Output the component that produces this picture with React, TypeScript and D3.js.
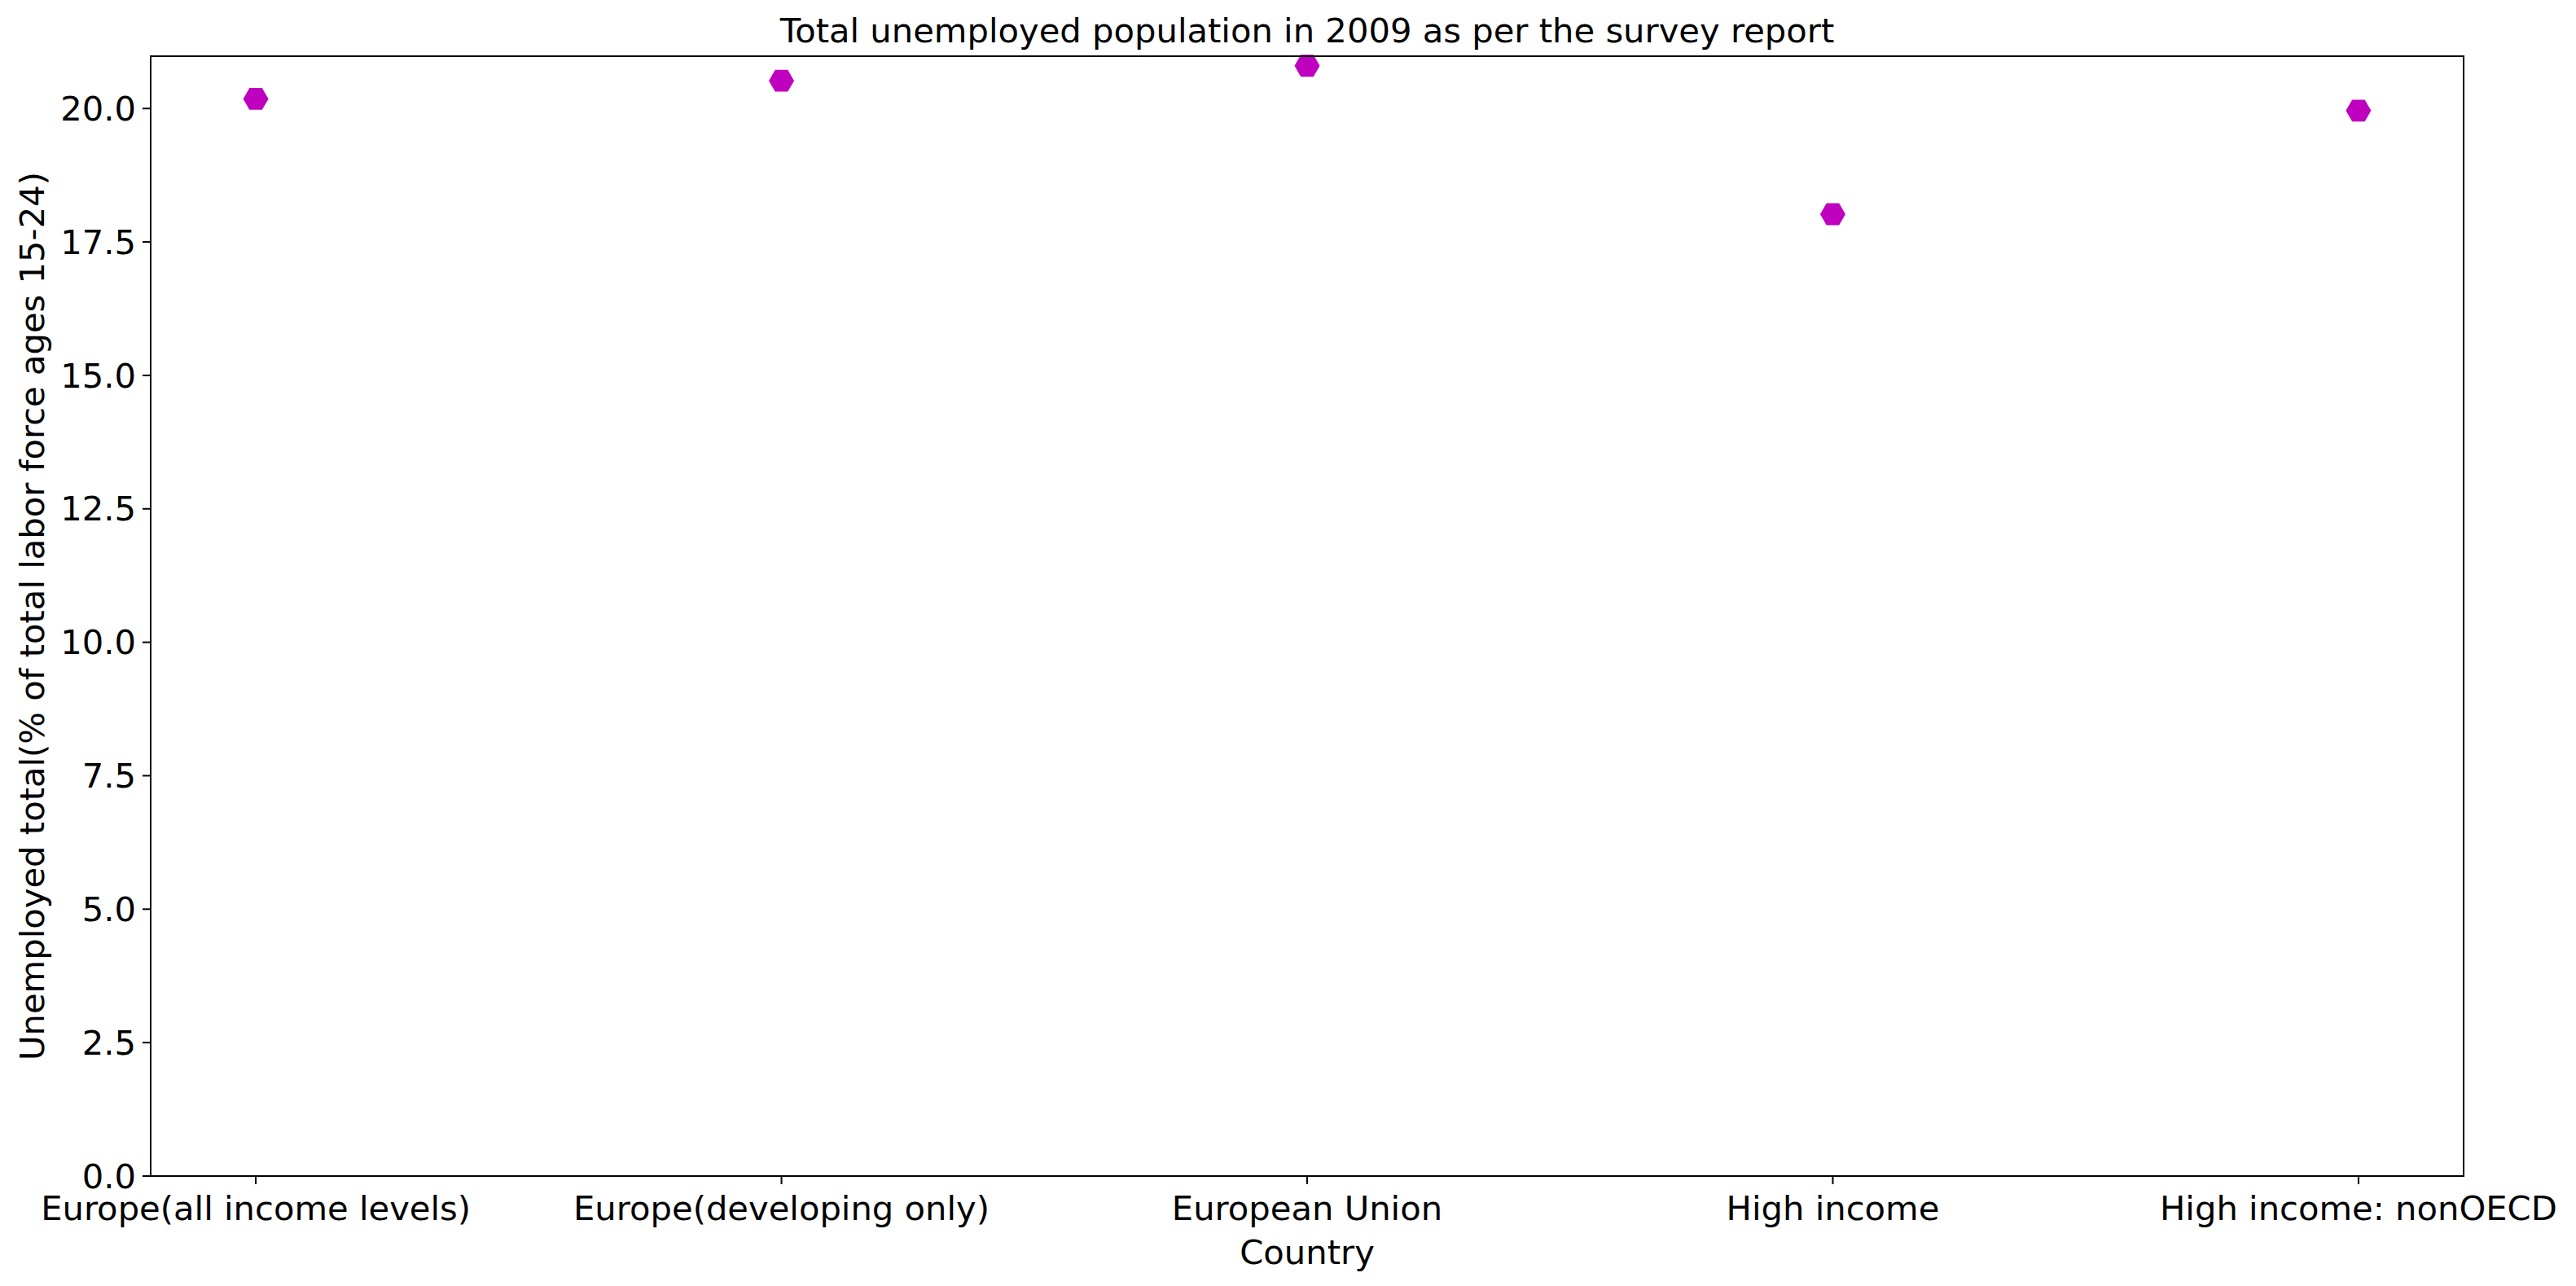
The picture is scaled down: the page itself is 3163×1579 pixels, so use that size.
import { useRef, useEffect } from 'react';
import * as d3 from 'd3';

const categories = [
  'Europe(all income levels)',
  'Europe(developing only)',
  'European Union',
  'High income',
  'High income: nonOECD',
];
const values = [20.18, 20.52, 20.8, 18.02, 19.96];
const yTicks = [0, 2.5, 5, 7.5, 10, 12.5, 15, 17.5, 20];

const W = 3163;
const H = 1579;
const M = { left: 185, right: 3025, top: 69, bottom: 1444 };
const FONT = 'DejaVu Sans, sans-serif';
const FS = 41.7;

export default function App() {
  const svgRef = useRef<SVGSVGElement>(null);

  useEffect(() => {
    if (!svgRef.current) return;
    const svg = d3.select(svgRef.current);
    svg.selectAll('*').remove();

    const x = d3.scaleLinear().domain([-0.2, categories.length - 0.8]).range([M.left, M.right]);
    const y = d3.scaleLinear().domain([0, 20.98]).range([M.bottom, M.top]);

    svg.append('rect').attr('width', W).attr('height', H).attr('fill', '#fff');

    // points
    const hex = (r: number) =>
      d3.range(6).map((i) => [r * Math.cos((i * Math.PI) / 3), r * Math.sin((i * Math.PI) / 3)].join(',')).join(' ');
    svg
      .append('g')
      .selectAll('polygon')
      .data(values)
      .enter()
      .append('polygon')
      .attr('points', hex(15.5))
      .attr('transform', (d, i) => `translate(${x(i)},${y(d)})`)
      .attr('fill', '#bf00bf');

    // frame
    svg
      .append('rect')
      .attr('x', M.left)
      .attr('y', M.top)
      .attr('width', M.right - M.left)
      .attr('height', M.bottom - M.top)
      .attr('fill', 'none')
      .attr('stroke', '#000')
      .attr('stroke-width', 2);

    // y ticks
    const yg = svg.append('g');
    yTicks.forEach((t) => {
      yg.append('line')
        .attr('x1', M.left - 10).attr('x2', M.left)
        .attr('y1', y(t)).attr('y2', y(t))
        .attr('stroke', '#000').attr('stroke-width', 2);
      yg.append('text')
        .attr('x', M.left - 18).attr('y', y(t))
        .attr('dy', '0.35em')
        .attr('text-anchor', 'end')
        .attr('font-family', FONT).attr('font-size', FS)
        .text(t.toFixed(1));
    });

    // x ticks
    const xg = svg.append('g');
    categories.forEach((c, i) => {
      xg.append('line')
        .attr('x1', x(i)).attr('x2', x(i))
        .attr('y1', M.bottom).attr('y2', M.bottom + 10)
        .attr('stroke', '#000').attr('stroke-width', 2);
      xg.append('text')
        .attr('x', x(i)).attr('y', M.bottom + 54)
        .attr('text-anchor', 'middle')
        .attr('font-family', FONT).attr('font-size', FS)
        .text(c);
    });

    svg.append('text')
      .attr('x', (M.left + M.right) / 2).attr('y', 52)
      .attr('text-anchor', 'middle')
      .attr('font-family', FONT).attr('font-size', FS)
      .text('Total unemployed population in 2009 as per the survey report');

    svg.append('text')
      .attr('x', (M.left + M.right) / 2).attr('y', 1552)
      .attr('text-anchor', 'middle')
      .attr('font-family', FONT).attr('font-size', FS)
      .text('Country');

    svg.append('text')
      .attr('transform', `translate(54,${(M.top + M.bottom) / 2}) rotate(-90)`)
      .attr('text-anchor', 'middle')
      .attr('font-family', FONT).attr('font-size', FS)
      .text('Unemployed total(% of total labor force ages 15-24)');
  }, []);

  return <svg ref={svgRef} width={W} height={H} style={{ display: 'block', margin: -8 }} />;
}
